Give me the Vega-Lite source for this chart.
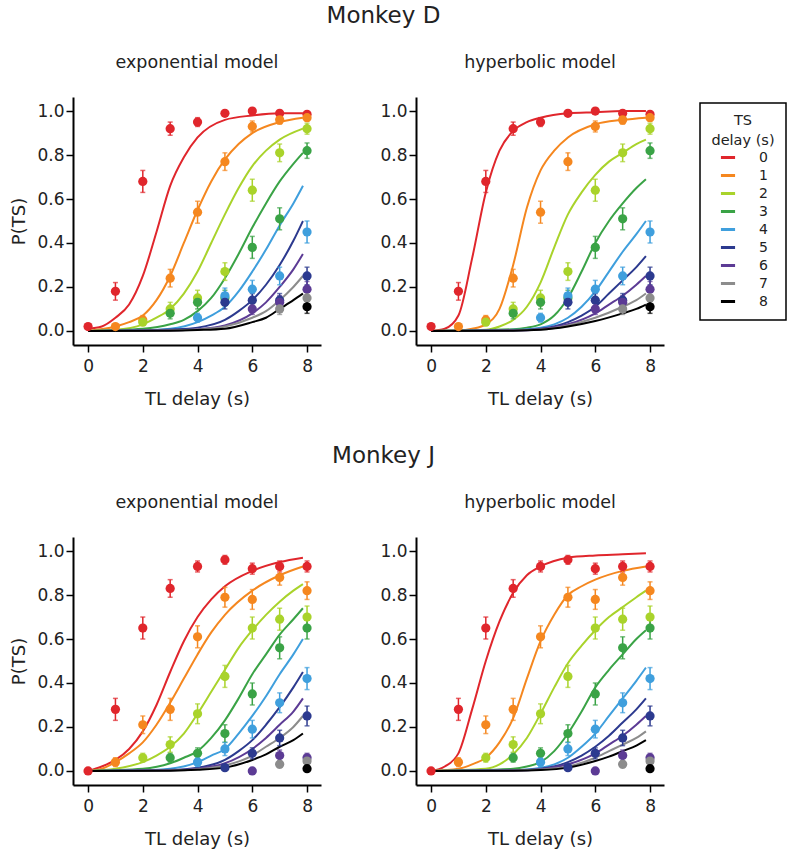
{
  "$schema": "https://vega.github.io/schema/vega-lite/v6.json",
  "background": "white",
  "padding": {"left": 10, "top": 4, "right": 4, "bottom": 4},
  "datasets": {
    "pts": [
      {"monkey": "D", "ts": 0, "tl": 0, "p": 0.02, "lo": 0.01, "hi": 0.03},
      {"monkey": "D", "ts": 0, "tl": 1, "p": 0.18, "lo": 0.14, "hi": 0.22},
      {"monkey": "D", "ts": 0, "tl": 2, "p": 0.68, "lo": 0.63, "hi": 0.73},
      {"monkey": "D", "ts": 0, "tl": 3, "p": 0.92, "lo": 0.89, "hi": 0.95},
      {"monkey": "D", "ts": 0, "tl": 4, "p": 0.95, "lo": 0.93, "hi": 0.97},
      {"monkey": "D", "ts": 0, "tl": 5, "p": 0.99, "lo": 0.98, "hi": 1.0},
      {"monkey": "D", "ts": 0, "tl": 6, "p": 1.0, "lo": 0.995, "hi": 1.0},
      {"monkey": "D", "ts": 0, "tl": 7, "p": 0.99, "lo": 0.98, "hi": 1.0},
      {"monkey": "D", "ts": 0, "tl": 8, "p": 0.985, "lo": 0.975, "hi": 0.995},
      {"monkey": "D", "ts": 1, "tl": 1, "p": 0.02, "lo": 0.01, "hi": 0.03},
      {"monkey": "D", "ts": 1, "tl": 2, "p": 0.05, "lo": 0.03, "hi": 0.07},
      {"monkey": "D", "ts": 1, "tl": 3, "p": 0.24, "lo": 0.2, "hi": 0.28},
      {"monkey": "D", "ts": 1, "tl": 4, "p": 0.54, "lo": 0.49, "hi": 0.59},
      {"monkey": "D", "ts": 1, "tl": 5, "p": 0.77, "lo": 0.73, "hi": 0.81},
      {"monkey": "D", "ts": 1, "tl": 6, "p": 0.93, "lo": 0.905, "hi": 0.955},
      {"monkey": "D", "ts": 1, "tl": 7, "p": 0.96, "lo": 0.94, "hi": 0.98},
      {"monkey": "D", "ts": 1, "tl": 8, "p": 0.97, "lo": 0.955, "hi": 0.985},
      {"monkey": "D", "ts": 2, "tl": 2, "p": 0.04, "lo": 0.025, "hi": 0.055},
      {"monkey": "D", "ts": 2, "tl": 3, "p": 0.1, "lo": 0.07, "hi": 0.13},
      {"monkey": "D", "ts": 2, "tl": 4, "p": 0.15, "lo": 0.115, "hi": 0.185},
      {"monkey": "D", "ts": 2, "tl": 5, "p": 0.27, "lo": 0.23, "hi": 0.31},
      {"monkey": "D", "ts": 2, "tl": 6, "p": 0.64, "lo": 0.59, "hi": 0.69},
      {"monkey": "D", "ts": 2, "tl": 7, "p": 0.81, "lo": 0.77, "hi": 0.85},
      {"monkey": "D", "ts": 2, "tl": 8, "p": 0.92, "lo": 0.895, "hi": 0.945},
      {"monkey": "D", "ts": 3, "tl": 3, "p": 0.08, "lo": 0.055, "hi": 0.105},
      {"monkey": "D", "ts": 3, "tl": 4, "p": 0.13, "lo": 0.1, "hi": 0.16},
      {"monkey": "D", "ts": 3, "tl": 5, "p": 0.15, "lo": 0.115, "hi": 0.185},
      {"monkey": "D", "ts": 3, "tl": 6, "p": 0.38, "lo": 0.33, "hi": 0.43},
      {"monkey": "D", "ts": 3, "tl": 7, "p": 0.51, "lo": 0.46, "hi": 0.56},
      {"monkey": "D", "ts": 3, "tl": 8, "p": 0.82, "lo": 0.785, "hi": 0.855},
      {"monkey": "D", "ts": 4, "tl": 4, "p": 0.06, "lo": 0.04, "hi": 0.08},
      {"monkey": "D", "ts": 4, "tl": 5, "p": 0.16, "lo": 0.125, "hi": 0.195},
      {"monkey": "D", "ts": 4, "tl": 6, "p": 0.19, "lo": 0.15, "hi": 0.23},
      {"monkey": "D", "ts": 4, "tl": 7, "p": 0.25, "lo": 0.21, "hi": 0.29},
      {"monkey": "D", "ts": 4, "tl": 8, "p": 0.45, "lo": 0.4, "hi": 0.5},
      {"monkey": "D", "ts": 5, "tl": 5, "p": 0.13, "lo": 0.1, "hi": 0.16},
      {"monkey": "D", "ts": 5, "tl": 6, "p": 0.14, "lo": 0.11, "hi": 0.17},
      {"monkey": "D", "ts": 5, "tl": 7, "p": 0.14, "lo": 0.11, "hi": 0.17},
      {"monkey": "D", "ts": 5, "tl": 8, "p": 0.25, "lo": 0.21, "hi": 0.29},
      {"monkey": "D", "ts": 6, "tl": 6, "p": 0.1, "lo": 0.075, "hi": 0.125},
      {"monkey": "D", "ts": 6, "tl": 7, "p": 0.13, "lo": 0.1, "hi": 0.16},
      {"monkey": "D", "ts": 6, "tl": 8, "p": 0.19, "lo": 0.155, "hi": 0.225},
      {"monkey": "D", "ts": 7, "tl": 7, "p": 0.1, "lo": 0.075, "hi": 0.125},
      {"monkey": "D", "ts": 7, "tl": 8, "p": 0.15, "lo": 0.12, "hi": 0.18},
      {"monkey": "D", "ts": 8, "tl": 8, "p": 0.11, "lo": 0.08, "hi": 0.14},
      {"monkey": "J", "ts": 0, "tl": 0, "p": 0.0, "lo": 0.0, "hi": 0.01},
      {"monkey": "J", "ts": 0, "tl": 1, "p": 0.28, "lo": 0.23, "hi": 0.33},
      {"monkey": "J", "ts": 0, "tl": 2, "p": 0.65, "lo": 0.6, "hi": 0.7},
      {"monkey": "J", "ts": 0, "tl": 3, "p": 0.83, "lo": 0.79, "hi": 0.87},
      {"monkey": "J", "ts": 0, "tl": 4, "p": 0.93, "lo": 0.905, "hi": 0.955},
      {"monkey": "J", "ts": 0, "tl": 5, "p": 0.96, "lo": 0.94, "hi": 0.98},
      {"monkey": "J", "ts": 0, "tl": 6, "p": 0.92, "lo": 0.895, "hi": 0.945},
      {"monkey": "J", "ts": 0, "tl": 7, "p": 0.93, "lo": 0.905, "hi": 0.955},
      {"monkey": "J", "ts": 0, "tl": 8, "p": 0.93, "lo": 0.905, "hi": 0.955},
      {"monkey": "J", "ts": 1, "tl": 1, "p": 0.04, "lo": 0.02, "hi": 0.06},
      {"monkey": "J", "ts": 1, "tl": 2, "p": 0.21, "lo": 0.17, "hi": 0.25},
      {"monkey": "J", "ts": 1, "tl": 3, "p": 0.28, "lo": 0.23, "hi": 0.33},
      {"monkey": "J", "ts": 1, "tl": 4, "p": 0.61, "lo": 0.56, "hi": 0.66},
      {"monkey": "J", "ts": 1, "tl": 5, "p": 0.79, "lo": 0.745, "hi": 0.835},
      {"monkey": "J", "ts": 1, "tl": 6, "p": 0.78, "lo": 0.735, "hi": 0.825},
      {"monkey": "J", "ts": 1, "tl": 7, "p": 0.88, "lo": 0.845, "hi": 0.915},
      {"monkey": "J", "ts": 1, "tl": 8, "p": 0.82, "lo": 0.78, "hi": 0.86},
      {"monkey": "J", "ts": 2, "tl": 2, "p": 0.06, "lo": 0.04, "hi": 0.08},
      {"monkey": "J", "ts": 2, "tl": 3, "p": 0.12, "lo": 0.085, "hi": 0.155},
      {"monkey": "J", "ts": 2, "tl": 4, "p": 0.26, "lo": 0.215, "hi": 0.305},
      {"monkey": "J", "ts": 2, "tl": 5, "p": 0.43, "lo": 0.38, "hi": 0.48},
      {"monkey": "J", "ts": 2, "tl": 6, "p": 0.65, "lo": 0.6, "hi": 0.7},
      {"monkey": "J", "ts": 2, "tl": 7, "p": 0.69, "lo": 0.64, "hi": 0.74},
      {"monkey": "J", "ts": 2, "tl": 8, "p": 0.7, "lo": 0.65, "hi": 0.75},
      {"monkey": "J", "ts": 3, "tl": 3, "p": 0.06, "lo": 0.04, "hi": 0.08},
      {"monkey": "J", "ts": 3, "tl": 4, "p": 0.08, "lo": 0.055, "hi": 0.105},
      {"monkey": "J", "ts": 3, "tl": 5, "p": 0.17, "lo": 0.13, "hi": 0.21},
      {"monkey": "J", "ts": 3, "tl": 6, "p": 0.35, "lo": 0.3, "hi": 0.4},
      {"monkey": "J", "ts": 3, "tl": 7, "p": 0.56, "lo": 0.51, "hi": 0.61},
      {"monkey": "J", "ts": 3, "tl": 8, "p": 0.65, "lo": 0.6, "hi": 0.7},
      {"monkey": "J", "ts": 4, "tl": 4, "p": 0.04, "lo": 0.02, "hi": 0.06},
      {"monkey": "J", "ts": 4, "tl": 5, "p": 0.1, "lo": 0.07, "hi": 0.13},
      {"monkey": "J", "ts": 4, "tl": 6, "p": 0.19, "lo": 0.15, "hi": 0.23},
      {"monkey": "J", "ts": 4, "tl": 7, "p": 0.31, "lo": 0.265, "hi": 0.355},
      {"monkey": "J", "ts": 4, "tl": 8, "p": 0.42, "lo": 0.37, "hi": 0.47},
      {"monkey": "J", "ts": 5, "tl": 5, "p": 0.015, "lo": 0.005, "hi": 0.025},
      {"monkey": "J", "ts": 5, "tl": 6, "p": 0.08, "lo": 0.055, "hi": 0.105},
      {"monkey": "J", "ts": 5, "tl": 7, "p": 0.15, "lo": 0.115, "hi": 0.185},
      {"monkey": "J", "ts": 5, "tl": 8, "p": 0.25, "lo": 0.205, "hi": 0.295},
      {"monkey": "J", "ts": 6, "tl": 6, "p": 0.0, "lo": 0.0, "hi": 0.005},
      {"monkey": "J", "ts": 6, "tl": 7, "p": 0.07, "lo": 0.045, "hi": 0.095},
      {"monkey": "J", "ts": 6, "tl": 8, "p": 0.06, "lo": 0.04, "hi": 0.08},
      {"monkey": "J", "ts": 7, "tl": 7, "p": 0.03, "lo": 0.015, "hi": 0.045},
      {"monkey": "J", "ts": 7, "tl": 8, "p": 0.045, "lo": 0.025, "hi": 0.065},
      {"monkey": "J", "ts": 8, "tl": 8, "p": 0.01, "lo": 0.0, "hi": 0.02}
    ],
    "fit": [
      {"monkey": "D", "model": "exp", "ts": 0, "tl": 0, "p": 0.01},
      {"monkey": "D", "model": "exp", "ts": 0, "tl": 0.5, "p": 0.02},
      {"monkey": "D", "model": "exp", "ts": 0, "tl": 1, "p": 0.06},
      {"monkey": "D", "model": "exp", "ts": 0, "tl": 1.5, "p": 0.12},
      {"monkey": "D", "model": "exp", "ts": 0, "tl": 2, "p": 0.25},
      {"monkey": "D", "model": "exp", "ts": 0, "tl": 2.5, "p": 0.45},
      {"monkey": "D", "model": "exp", "ts": 0, "tl": 3, "p": 0.66},
      {"monkey": "D", "model": "exp", "ts": 0, "tl": 3.5, "p": 0.79},
      {"monkey": "D", "model": "exp", "ts": 0, "tl": 4, "p": 0.88},
      {"monkey": "D", "model": "exp", "ts": 0, "tl": 5, "p": 0.96},
      {"monkey": "D", "model": "exp", "ts": 0, "tl": 6, "p": 0.98},
      {"monkey": "D", "model": "exp", "ts": 0, "tl": 7, "p": 0.99},
      {"monkey": "D", "model": "exp", "ts": 0, "tl": 7.85, "p": 0.99},
      {"monkey": "D", "model": "exp", "ts": 1, "tl": 0, "p": 0.0},
      {"monkey": "D", "model": "exp", "ts": 1, "tl": 1, "p": 0.02},
      {"monkey": "D", "model": "exp", "ts": 1, "tl": 1.5, "p": 0.04},
      {"monkey": "D", "model": "exp", "ts": 1, "tl": 2, "p": 0.07},
      {"monkey": "D", "model": "exp", "ts": 1, "tl": 2.5, "p": 0.14},
      {"monkey": "D", "model": "exp", "ts": 1, "tl": 3, "p": 0.25},
      {"monkey": "D", "model": "exp", "ts": 1, "tl": 3.5, "p": 0.4},
      {"monkey": "D", "model": "exp", "ts": 1, "tl": 4, "p": 0.55},
      {"monkey": "D", "model": "exp", "ts": 1, "tl": 4.5, "p": 0.68},
      {"monkey": "D", "model": "exp", "ts": 1, "tl": 5, "p": 0.78},
      {"monkey": "D", "model": "exp", "ts": 1, "tl": 5.5, "p": 0.85},
      {"monkey": "D", "model": "exp", "ts": 1, "tl": 6, "p": 0.9},
      {"monkey": "D", "model": "exp", "ts": 1, "tl": 7, "p": 0.95},
      {"monkey": "D", "model": "exp", "ts": 1, "tl": 7.85, "p": 0.97},
      {"monkey": "D", "model": "exp", "ts": 2, "tl": 0, "p": 0.0},
      {"monkey": "D", "model": "exp", "ts": 2, "tl": 1, "p": 0.005},
      {"monkey": "D", "model": "exp", "ts": 2, "tl": 2, "p": 0.03},
      {"monkey": "D", "model": "exp", "ts": 2, "tl": 2.5, "p": 0.06},
      {"monkey": "D", "model": "exp", "ts": 2, "tl": 3, "p": 0.1},
      {"monkey": "D", "model": "exp", "ts": 2, "tl": 3.5, "p": 0.17},
      {"monkey": "D", "model": "exp", "ts": 2, "tl": 4, "p": 0.27},
      {"monkey": "D", "model": "exp", "ts": 2, "tl": 4.5, "p": 0.4},
      {"monkey": "D", "model": "exp", "ts": 2, "tl": 5, "p": 0.53},
      {"monkey": "D", "model": "exp", "ts": 2, "tl": 5.5, "p": 0.65},
      {"monkey": "D", "model": "exp", "ts": 2, "tl": 6, "p": 0.75},
      {"monkey": "D", "model": "exp", "ts": 2, "tl": 6.5, "p": 0.82},
      {"monkey": "D", "model": "exp", "ts": 2, "tl": 7, "p": 0.87},
      {"monkey": "D", "model": "exp", "ts": 2, "tl": 7.85, "p": 0.92},
      {"monkey": "D", "model": "exp", "ts": 3, "tl": 0, "p": 0.0},
      {"monkey": "D", "model": "exp", "ts": 3, "tl": 2, "p": 0.01},
      {"monkey": "D", "model": "exp", "ts": 3, "tl": 3, "p": 0.03},
      {"monkey": "D", "model": "exp", "ts": 3, "tl": 3.5, "p": 0.05},
      {"monkey": "D", "model": "exp", "ts": 3, "tl": 4, "p": 0.09},
      {"monkey": "D", "model": "exp", "ts": 3, "tl": 4.5, "p": 0.15},
      {"monkey": "D", "model": "exp", "ts": 3, "tl": 5, "p": 0.24},
      {"monkey": "D", "model": "exp", "ts": 3, "tl": 5.5, "p": 0.35},
      {"monkey": "D", "model": "exp", "ts": 3, "tl": 6, "p": 0.47},
      {"monkey": "D", "model": "exp", "ts": 3, "tl": 6.5, "p": 0.58},
      {"monkey": "D", "model": "exp", "ts": 3, "tl": 7, "p": 0.68},
      {"monkey": "D", "model": "exp", "ts": 3, "tl": 7.5, "p": 0.76},
      {"monkey": "D", "model": "exp", "ts": 3, "tl": 7.85, "p": 0.81},
      {"monkey": "D", "model": "exp", "ts": 4, "tl": 0, "p": 0.0},
      {"monkey": "D", "model": "exp", "ts": 4, "tl": 2, "p": 0.003},
      {"monkey": "D", "model": "exp", "ts": 4, "tl": 3, "p": 0.01},
      {"monkey": "D", "model": "exp", "ts": 4, "tl": 4, "p": 0.04},
      {"monkey": "D", "model": "exp", "ts": 4, "tl": 4.5, "p": 0.07},
      {"monkey": "D", "model": "exp", "ts": 4, "tl": 5, "p": 0.11},
      {"monkey": "D", "model": "exp", "ts": 4, "tl": 5.5, "p": 0.18},
      {"monkey": "D", "model": "exp", "ts": 4, "tl": 6, "p": 0.27},
      {"monkey": "D", "model": "exp", "ts": 4, "tl": 6.5, "p": 0.37},
      {"monkey": "D", "model": "exp", "ts": 4, "tl": 7, "p": 0.48},
      {"monkey": "D", "model": "exp", "ts": 4, "tl": 7.5, "p": 0.58},
      {"monkey": "D", "model": "exp", "ts": 4, "tl": 7.85, "p": 0.66},
      {"monkey": "D", "model": "exp", "ts": 5, "tl": 0, "p": 0.0},
      {"monkey": "D", "model": "exp", "ts": 5, "tl": 2, "p": 0.002},
      {"monkey": "D", "model": "exp", "ts": 5, "tl": 3, "p": 0.006},
      {"monkey": "D", "model": "exp", "ts": 5, "tl": 4, "p": 0.015},
      {"monkey": "D", "model": "exp", "ts": 5, "tl": 5, "p": 0.05},
      {"monkey": "D", "model": "exp", "ts": 5, "tl": 5.5, "p": 0.09},
      {"monkey": "D", "model": "exp", "ts": 5, "tl": 6, "p": 0.14},
      {"monkey": "D", "model": "exp", "ts": 5, "tl": 6.5, "p": 0.21},
      {"monkey": "D", "model": "exp", "ts": 5, "tl": 7, "p": 0.3},
      {"monkey": "D", "model": "exp", "ts": 5, "tl": 7.5, "p": 0.41},
      {"monkey": "D", "model": "exp", "ts": 5, "tl": 7.85, "p": 0.5},
      {"monkey": "D", "model": "exp", "ts": 6, "tl": 0, "p": 0.0},
      {"monkey": "D", "model": "exp", "ts": 6, "tl": 3, "p": 0.003},
      {"monkey": "D", "model": "exp", "ts": 6, "tl": 4, "p": 0.008},
      {"monkey": "D", "model": "exp", "ts": 6, "tl": 5, "p": 0.025},
      {"monkey": "D", "model": "exp", "ts": 6, "tl": 6, "p": 0.08},
      {"monkey": "D", "model": "exp", "ts": 6, "tl": 6.5, "p": 0.13},
      {"monkey": "D", "model": "exp", "ts": 6, "tl": 7, "p": 0.2},
      {"monkey": "D", "model": "exp", "ts": 6, "tl": 7.5, "p": 0.28},
      {"monkey": "D", "model": "exp", "ts": 6, "tl": 7.85, "p": 0.35},
      {"monkey": "D", "model": "exp", "ts": 7, "tl": 0, "p": 0.0},
      {"monkey": "D", "model": "exp", "ts": 7, "tl": 3, "p": 0.002},
      {"monkey": "D", "model": "exp", "ts": 7, "tl": 4, "p": 0.006},
      {"monkey": "D", "model": "exp", "ts": 7, "tl": 5, "p": 0.02},
      {"monkey": "D", "model": "exp", "ts": 7, "tl": 6, "p": 0.06},
      {"monkey": "D", "model": "exp", "ts": 7, "tl": 6.5, "p": 0.09},
      {"monkey": "D", "model": "exp", "ts": 7, "tl": 7, "p": 0.14},
      {"monkey": "D", "model": "exp", "ts": 7, "tl": 7.5, "p": 0.2},
      {"monkey": "D", "model": "exp", "ts": 7, "tl": 7.85, "p": 0.25},
      {"monkey": "D", "model": "exp", "ts": 8, "tl": 0, "p": 0.0},
      {"monkey": "D", "model": "exp", "ts": 8, "tl": 3, "p": 0.001},
      {"monkey": "D", "model": "exp", "ts": 8, "tl": 4, "p": 0.004},
      {"monkey": "D", "model": "exp", "ts": 8, "tl": 5, "p": 0.01},
      {"monkey": "D", "model": "exp", "ts": 8, "tl": 6, "p": 0.04},
      {"monkey": "D", "model": "exp", "ts": 8, "tl": 6.5, "p": 0.06},
      {"monkey": "D", "model": "exp", "ts": 8, "tl": 7, "p": 0.1},
      {"monkey": "D", "model": "exp", "ts": 8, "tl": 7.5, "p": 0.14},
      {"monkey": "D", "model": "exp", "ts": 8, "tl": 7.85, "p": 0.17},
      {"monkey": "D", "model": "hyp", "ts": 0, "tl": 0, "p": 0.0},
      {"monkey": "D", "model": "hyp", "ts": 0, "tl": 0.5, "p": 0.01},
      {"monkey": "D", "model": "hyp", "ts": 0, "tl": 1, "p": 0.07},
      {"monkey": "D", "model": "hyp", "ts": 0, "tl": 1.5, "p": 0.33},
      {"monkey": "D", "model": "hyp", "ts": 0, "tl": 2, "p": 0.63},
      {"monkey": "D", "model": "hyp", "ts": 0, "tl": 2.5, "p": 0.82},
      {"monkey": "D", "model": "hyp", "ts": 0, "tl": 3, "p": 0.91},
      {"monkey": "D", "model": "hyp", "ts": 0, "tl": 3.5, "p": 0.95},
      {"monkey": "D", "model": "hyp", "ts": 0, "tl": 4, "p": 0.97},
      {"monkey": "D", "model": "hyp", "ts": 0, "tl": 5, "p": 0.99},
      {"monkey": "D", "model": "hyp", "ts": 0, "tl": 6, "p": 0.995},
      {"monkey": "D", "model": "hyp", "ts": 0, "tl": 7, "p": 1.0},
      {"monkey": "D", "model": "hyp", "ts": 0, "tl": 7.85, "p": 1.0},
      {"monkey": "D", "model": "hyp", "ts": 1, "tl": 0, "p": 0.0},
      {"monkey": "D", "model": "hyp", "ts": 1, "tl": 1, "p": 0.002},
      {"monkey": "D", "model": "hyp", "ts": 1, "tl": 1.5, "p": 0.01},
      {"monkey": "D", "model": "hyp", "ts": 1, "tl": 2, "p": 0.03},
      {"monkey": "D", "model": "hyp", "ts": 1, "tl": 2.5, "p": 0.1},
      {"monkey": "D", "model": "hyp", "ts": 1, "tl": 3, "p": 0.3},
      {"monkey": "D", "model": "hyp", "ts": 1, "tl": 3.5, "p": 0.56},
      {"monkey": "D", "model": "hyp", "ts": 1, "tl": 4, "p": 0.73},
      {"monkey": "D", "model": "hyp", "ts": 1, "tl": 4.5, "p": 0.82},
      {"monkey": "D", "model": "hyp", "ts": 1, "tl": 5, "p": 0.88},
      {"monkey": "D", "model": "hyp", "ts": 1, "tl": 6, "p": 0.94},
      {"monkey": "D", "model": "hyp", "ts": 1, "tl": 7, "p": 0.96},
      {"monkey": "D", "model": "hyp", "ts": 1, "tl": 7.85, "p": 0.97},
      {"monkey": "D", "model": "hyp", "ts": 2, "tl": 0, "p": 0.0},
      {"monkey": "D", "model": "hyp", "ts": 2, "tl": 2, "p": 0.005},
      {"monkey": "D", "model": "hyp", "ts": 2, "tl": 2.5, "p": 0.02},
      {"monkey": "D", "model": "hyp", "ts": 2, "tl": 3, "p": 0.05},
      {"monkey": "D", "model": "hyp", "ts": 2, "tl": 3.5, "p": 0.11},
      {"monkey": "D", "model": "hyp", "ts": 2, "tl": 4, "p": 0.22},
      {"monkey": "D", "model": "hyp", "ts": 2, "tl": 4.5, "p": 0.38},
      {"monkey": "D", "model": "hyp", "ts": 2, "tl": 5, "p": 0.53},
      {"monkey": "D", "model": "hyp", "ts": 2, "tl": 5.5, "p": 0.63},
      {"monkey": "D", "model": "hyp", "ts": 2, "tl": 6, "p": 0.71},
      {"monkey": "D", "model": "hyp", "ts": 2, "tl": 6.5, "p": 0.77},
      {"monkey": "D", "model": "hyp", "ts": 2, "tl": 7, "p": 0.81},
      {"monkey": "D", "model": "hyp", "ts": 2, "tl": 7.5, "p": 0.85},
      {"monkey": "D", "model": "hyp", "ts": 2, "tl": 7.85, "p": 0.87},
      {"monkey": "D", "model": "hyp", "ts": 3, "tl": 0, "p": 0.0},
      {"monkey": "D", "model": "hyp", "ts": 3, "tl": 3, "p": 0.008},
      {"monkey": "D", "model": "hyp", "ts": 3, "tl": 3.5, "p": 0.015},
      {"monkey": "D", "model": "hyp", "ts": 3, "tl": 4, "p": 0.03},
      {"monkey": "D", "model": "hyp", "ts": 3, "tl": 4.5, "p": 0.07},
      {"monkey": "D", "model": "hyp", "ts": 3, "tl": 5, "p": 0.15},
      {"monkey": "D", "model": "hyp", "ts": 3, "tl": 5.5, "p": 0.27},
      {"monkey": "D", "model": "hyp", "ts": 3, "tl": 6, "p": 0.4},
      {"monkey": "D", "model": "hyp", "ts": 3, "tl": 6.5, "p": 0.5},
      {"monkey": "D", "model": "hyp", "ts": 3, "tl": 7, "p": 0.58},
      {"monkey": "D", "model": "hyp", "ts": 3, "tl": 7.5, "p": 0.65},
      {"monkey": "D", "model": "hyp", "ts": 3, "tl": 7.85, "p": 0.69},
      {"monkey": "D", "model": "hyp", "ts": 4, "tl": 0, "p": 0.0},
      {"monkey": "D", "model": "hyp", "ts": 4, "tl": 3, "p": 0.005},
      {"monkey": "D", "model": "hyp", "ts": 4, "tl": 4, "p": 0.015},
      {"monkey": "D", "model": "hyp", "ts": 4, "tl": 4.5, "p": 0.03},
      {"monkey": "D", "model": "hyp", "ts": 4, "tl": 5, "p": 0.06},
      {"monkey": "D", "model": "hyp", "ts": 4, "tl": 5.5, "p": 0.11},
      {"monkey": "D", "model": "hyp", "ts": 4, "tl": 6, "p": 0.18},
      {"monkey": "D", "model": "hyp", "ts": 4, "tl": 6.5, "p": 0.27},
      {"monkey": "D", "model": "hyp", "ts": 4, "tl": 7, "p": 0.36},
      {"monkey": "D", "model": "hyp", "ts": 4, "tl": 7.5, "p": 0.44},
      {"monkey": "D", "model": "hyp", "ts": 4, "tl": 7.85, "p": 0.5},
      {"monkey": "D", "model": "hyp", "ts": 5, "tl": 0, "p": 0.0},
      {"monkey": "D", "model": "hyp", "ts": 5, "tl": 3, "p": 0.003},
      {"monkey": "D", "model": "hyp", "ts": 5, "tl": 4, "p": 0.01},
      {"monkey": "D", "model": "hyp", "ts": 5, "tl": 5, "p": 0.04},
      {"monkey": "D", "model": "hyp", "ts": 5, "tl": 5.5, "p": 0.07},
      {"monkey": "D", "model": "hyp", "ts": 5, "tl": 6, "p": 0.11},
      {"monkey": "D", "model": "hyp", "ts": 5, "tl": 6.5, "p": 0.17},
      {"monkey": "D", "model": "hyp", "ts": 5, "tl": 7, "p": 0.23},
      {"monkey": "D", "model": "hyp", "ts": 5, "tl": 7.5, "p": 0.29},
      {"monkey": "D", "model": "hyp", "ts": 5, "tl": 7.85, "p": 0.34},
      {"monkey": "D", "model": "hyp", "ts": 6, "tl": 0, "p": 0.0},
      {"monkey": "D", "model": "hyp", "ts": 6, "tl": 3, "p": 0.002},
      {"monkey": "D", "model": "hyp", "ts": 6, "tl": 4, "p": 0.008},
      {"monkey": "D", "model": "hyp", "ts": 6, "tl": 5, "p": 0.03},
      {"monkey": "D", "model": "hyp", "ts": 6, "tl": 6, "p": 0.08},
      {"monkey": "D", "model": "hyp", "ts": 6, "tl": 6.5, "p": 0.12},
      {"monkey": "D", "model": "hyp", "ts": 6, "tl": 7, "p": 0.16},
      {"monkey": "D", "model": "hyp", "ts": 6, "tl": 7.5, "p": 0.21},
      {"monkey": "D", "model": "hyp", "ts": 6, "tl": 7.85, "p": 0.25},
      {"monkey": "D", "model": "hyp", "ts": 7, "tl": 0, "p": 0.0},
      {"monkey": "D", "model": "hyp", "ts": 7, "tl": 3, "p": 0.002},
      {"monkey": "D", "model": "hyp", "ts": 7, "tl": 4, "p": 0.006},
      {"monkey": "D", "model": "hyp", "ts": 7, "tl": 5, "p": 0.025},
      {"monkey": "D", "model": "hyp", "ts": 7, "tl": 6, "p": 0.06},
      {"monkey": "D", "model": "hyp", "ts": 7, "tl": 7, "p": 0.11},
      {"monkey": "D", "model": "hyp", "ts": 7, "tl": 7.5, "p": 0.14},
      {"monkey": "D", "model": "hyp", "ts": 7, "tl": 7.85, "p": 0.17},
      {"monkey": "D", "model": "hyp", "ts": 8, "tl": 0, "p": 0.0},
      {"monkey": "D", "model": "hyp", "ts": 8, "tl": 3, "p": 0.001},
      {"monkey": "D", "model": "hyp", "ts": 8, "tl": 4, "p": 0.005},
      {"monkey": "D", "model": "hyp", "ts": 8, "tl": 5, "p": 0.02},
      {"monkey": "D", "model": "hyp", "ts": 8, "tl": 6, "p": 0.045},
      {"monkey": "D", "model": "hyp", "ts": 8, "tl": 7, "p": 0.08},
      {"monkey": "D", "model": "hyp", "ts": 8, "tl": 7.5, "p": 0.1},
      {"monkey": "D", "model": "hyp", "ts": 8, "tl": 7.85, "p": 0.12},
      {"monkey": "J", "model": "exp", "ts": 0, "tl": 0, "p": 0.0},
      {"monkey": "J", "model": "exp", "ts": 0, "tl": 0.5, "p": 0.02},
      {"monkey": "J", "model": "exp", "ts": 0, "tl": 1, "p": 0.05},
      {"monkey": "J", "model": "exp", "ts": 0, "tl": 1.5, "p": 0.1},
      {"monkey": "J", "model": "exp", "ts": 0, "tl": 2, "p": 0.18},
      {"monkey": "J", "model": "exp", "ts": 0, "tl": 2.5, "p": 0.3},
      {"monkey": "J", "model": "exp", "ts": 0, "tl": 3, "p": 0.45},
      {"monkey": "J", "model": "exp", "ts": 0, "tl": 3.5, "p": 0.59},
      {"monkey": "J", "model": "exp", "ts": 0, "tl": 4, "p": 0.7},
      {"monkey": "J", "model": "exp", "ts": 0, "tl": 4.5, "p": 0.78},
      {"monkey": "J", "model": "exp", "ts": 0, "tl": 5, "p": 0.84},
      {"monkey": "J", "model": "exp", "ts": 0, "tl": 6, "p": 0.91},
      {"monkey": "J", "model": "exp", "ts": 0, "tl": 7, "p": 0.95},
      {"monkey": "J", "model": "exp", "ts": 0, "tl": 7.85, "p": 0.97},
      {"monkey": "J", "model": "exp", "ts": 1, "tl": 0, "p": 0.0},
      {"monkey": "J", "model": "exp", "ts": 1, "tl": 0.5, "p": 0.01},
      {"monkey": "J", "model": "exp", "ts": 1, "tl": 1, "p": 0.04},
      {"monkey": "J", "model": "exp", "ts": 1, "tl": 1.5, "p": 0.08},
      {"monkey": "J", "model": "exp", "ts": 1, "tl": 2, "p": 0.13},
      {"monkey": "J", "model": "exp", "ts": 1, "tl": 2.5, "p": 0.21},
      {"monkey": "J", "model": "exp", "ts": 1, "tl": 3, "p": 0.31},
      {"monkey": "J", "model": "exp", "ts": 1, "tl": 3.5, "p": 0.42},
      {"monkey": "J", "model": "exp", "ts": 1, "tl": 4, "p": 0.53},
      {"monkey": "J", "model": "exp", "ts": 1, "tl": 4.5, "p": 0.63},
      {"monkey": "J", "model": "exp", "ts": 1, "tl": 5, "p": 0.71},
      {"monkey": "J", "model": "exp", "ts": 1, "tl": 6, "p": 0.82},
      {"monkey": "J", "model": "exp", "ts": 1, "tl": 7, "p": 0.89},
      {"monkey": "J", "model": "exp", "ts": 1, "tl": 7.85, "p": 0.93},
      {"monkey": "J", "model": "exp", "ts": 2, "tl": 0, "p": 0.0},
      {"monkey": "J", "model": "exp", "ts": 2, "tl": 1, "p": 0.01},
      {"monkey": "J", "model": "exp", "ts": 2, "tl": 2, "p": 0.04},
      {"monkey": "J", "model": "exp", "ts": 2, "tl": 2.5, "p": 0.07},
      {"monkey": "J", "model": "exp", "ts": 2, "tl": 3, "p": 0.11},
      {"monkey": "J", "model": "exp", "ts": 2, "tl": 3.5, "p": 0.17},
      {"monkey": "J", "model": "exp", "ts": 2, "tl": 4, "p": 0.26},
      {"monkey": "J", "model": "exp", "ts": 2, "tl": 4.5, "p": 0.36},
      {"monkey": "J", "model": "exp", "ts": 2, "tl": 5, "p": 0.46},
      {"monkey": "J", "model": "exp", "ts": 2, "tl": 5.5, "p": 0.56},
      {"monkey": "J", "model": "exp", "ts": 2, "tl": 6, "p": 0.64},
      {"monkey": "J", "model": "exp", "ts": 2, "tl": 6.5, "p": 0.71},
      {"monkey": "J", "model": "exp", "ts": 2, "tl": 7, "p": 0.77},
      {"monkey": "J", "model": "exp", "ts": 2, "tl": 7.5, "p": 0.82},
      {"monkey": "J", "model": "exp", "ts": 2, "tl": 7.85, "p": 0.85},
      {"monkey": "J", "model": "exp", "ts": 3, "tl": 0, "p": 0.0},
      {"monkey": "J", "model": "exp", "ts": 3, "tl": 2, "p": 0.01},
      {"monkey": "J", "model": "exp", "ts": 3, "tl": 3, "p": 0.035},
      {"monkey": "J", "model": "exp", "ts": 3, "tl": 3.5, "p": 0.06},
      {"monkey": "J", "model": "exp", "ts": 3, "tl": 4, "p": 0.09},
      {"monkey": "J", "model": "exp", "ts": 3, "tl": 4.5, "p": 0.15},
      {"monkey": "J", "model": "exp", "ts": 3, "tl": 5, "p": 0.23},
      {"monkey": "J", "model": "exp", "ts": 3, "tl": 5.5, "p": 0.33},
      {"monkey": "J", "model": "exp", "ts": 3, "tl": 6, "p": 0.44},
      {"monkey": "J", "model": "exp", "ts": 3, "tl": 6.5, "p": 0.53},
      {"monkey": "J", "model": "exp", "ts": 3, "tl": 7, "p": 0.62},
      {"monkey": "J", "model": "exp", "ts": 3, "tl": 7.5, "p": 0.69},
      {"monkey": "J", "model": "exp", "ts": 3, "tl": 7.85, "p": 0.74},
      {"monkey": "J", "model": "exp", "ts": 4, "tl": 0, "p": 0.0},
      {"monkey": "J", "model": "exp", "ts": 4, "tl": 2, "p": 0.003},
      {"monkey": "J", "model": "exp", "ts": 4, "tl": 3, "p": 0.01},
      {"monkey": "J", "model": "exp", "ts": 4, "tl": 4, "p": 0.04},
      {"monkey": "J", "model": "exp", "ts": 4, "tl": 4.5, "p": 0.07},
      {"monkey": "J", "model": "exp", "ts": 4, "tl": 5, "p": 0.1},
      {"monkey": "J", "model": "exp", "ts": 4, "tl": 5.5, "p": 0.17},
      {"monkey": "J", "model": "exp", "ts": 4, "tl": 6, "p": 0.25},
      {"monkey": "J", "model": "exp", "ts": 4, "tl": 6.5, "p": 0.34},
      {"monkey": "J", "model": "exp", "ts": 4, "tl": 7, "p": 0.44},
      {"monkey": "J", "model": "exp", "ts": 4, "tl": 7.5, "p": 0.53},
      {"monkey": "J", "model": "exp", "ts": 4, "tl": 7.85, "p": 0.6},
      {"monkey": "J", "model": "exp", "ts": 5, "tl": 0, "p": 0.0},
      {"monkey": "J", "model": "exp", "ts": 5, "tl": 3, "p": 0.005},
      {"monkey": "J", "model": "exp", "ts": 5, "tl": 4, "p": 0.015},
      {"monkey": "J", "model": "exp", "ts": 5, "tl": 5, "p": 0.05},
      {"monkey": "J", "model": "exp", "ts": 5, "tl": 5.5, "p": 0.09},
      {"monkey": "J", "model": "exp", "ts": 5, "tl": 6, "p": 0.14},
      {"monkey": "J", "model": "exp", "ts": 5, "tl": 6.5, "p": 0.21},
      {"monkey": "J", "model": "exp", "ts": 5, "tl": 7, "p": 0.29},
      {"monkey": "J", "model": "exp", "ts": 5, "tl": 7.5, "p": 0.38},
      {"monkey": "J", "model": "exp", "ts": 5, "tl": 7.85, "p": 0.45},
      {"monkey": "J", "model": "exp", "ts": 6, "tl": 0, "p": 0.0},
      {"monkey": "J", "model": "exp", "ts": 6, "tl": 3, "p": 0.003},
      {"monkey": "J", "model": "exp", "ts": 6, "tl": 4, "p": 0.01},
      {"monkey": "J", "model": "exp", "ts": 6, "tl": 5, "p": 0.035},
      {"monkey": "J", "model": "exp", "ts": 6, "tl": 6, "p": 0.1},
      {"monkey": "J", "model": "exp", "ts": 6, "tl": 6.5, "p": 0.15},
      {"monkey": "J", "model": "exp", "ts": 6, "tl": 7, "p": 0.21},
      {"monkey": "J", "model": "exp", "ts": 6, "tl": 7.5, "p": 0.27},
      {"monkey": "J", "model": "exp", "ts": 6, "tl": 7.85, "p": 0.33},
      {"monkey": "J", "model": "exp", "ts": 7, "tl": 0, "p": 0.0},
      {"monkey": "J", "model": "exp", "ts": 7, "tl": 3, "p": 0.002},
      {"monkey": "J", "model": "exp", "ts": 7, "tl": 4, "p": 0.008},
      {"monkey": "J", "model": "exp", "ts": 7, "tl": 5, "p": 0.025},
      {"monkey": "J", "model": "exp", "ts": 7, "tl": 6, "p": 0.07},
      {"monkey": "J", "model": "exp", "ts": 7, "tl": 6.5, "p": 0.11},
      {"monkey": "J", "model": "exp", "ts": 7, "tl": 7, "p": 0.15},
      {"monkey": "J", "model": "exp", "ts": 7, "tl": 7.5, "p": 0.2},
      {"monkey": "J", "model": "exp", "ts": 7, "tl": 7.85, "p": 0.25},
      {"monkey": "J", "model": "exp", "ts": 8, "tl": 0, "p": 0.0},
      {"monkey": "J", "model": "exp", "ts": 8, "tl": 3, "p": 0.001},
      {"monkey": "J", "model": "exp", "ts": 8, "tl": 4, "p": 0.005},
      {"monkey": "J", "model": "exp", "ts": 8, "tl": 5, "p": 0.015},
      {"monkey": "J", "model": "exp", "ts": 8, "tl": 6, "p": 0.05},
      {"monkey": "J", "model": "exp", "ts": 8, "tl": 6.5, "p": 0.075},
      {"monkey": "J", "model": "exp", "ts": 8, "tl": 7, "p": 0.11},
      {"monkey": "J", "model": "exp", "ts": 8, "tl": 7.5, "p": 0.14},
      {"monkey": "J", "model": "exp", "ts": 8, "tl": 7.85, "p": 0.17},
      {"monkey": "J", "model": "hyp", "ts": 0, "tl": 0, "p": 0.0},
      {"monkey": "J", "model": "hyp", "ts": 0, "tl": 0.5, "p": 0.02},
      {"monkey": "J", "model": "hyp", "ts": 0, "tl": 1, "p": 0.08},
      {"monkey": "J", "model": "hyp", "ts": 0, "tl": 1.5, "p": 0.28},
      {"monkey": "J", "model": "hyp", "ts": 0, "tl": 2, "p": 0.5},
      {"monkey": "J", "model": "hyp", "ts": 0, "tl": 2.5, "p": 0.68},
      {"monkey": "J", "model": "hyp", "ts": 0, "tl": 3, "p": 0.81},
      {"monkey": "J", "model": "hyp", "ts": 0, "tl": 3.5, "p": 0.89},
      {"monkey": "J", "model": "hyp", "ts": 0, "tl": 4, "p": 0.93},
      {"monkey": "J", "model": "hyp", "ts": 0, "tl": 5, "p": 0.97},
      {"monkey": "J", "model": "hyp", "ts": 0, "tl": 6, "p": 0.98},
      {"monkey": "J", "model": "hyp", "ts": 0, "tl": 7, "p": 0.985},
      {"monkey": "J", "model": "hyp", "ts": 0, "tl": 7.85, "p": 0.99},
      {"monkey": "J", "model": "hyp", "ts": 1, "tl": 0, "p": 0.0},
      {"monkey": "J", "model": "hyp", "ts": 1, "tl": 1, "p": 0.01},
      {"monkey": "J", "model": "hyp", "ts": 1, "tl": 1.5, "p": 0.03},
      {"monkey": "J", "model": "hyp", "ts": 1, "tl": 2, "p": 0.06},
      {"monkey": "J", "model": "hyp", "ts": 1, "tl": 2.5, "p": 0.13},
      {"monkey": "J", "model": "hyp", "ts": 1, "tl": 3, "p": 0.24},
      {"monkey": "J", "model": "hyp", "ts": 1, "tl": 3.5, "p": 0.42},
      {"monkey": "J", "model": "hyp", "ts": 1, "tl": 4, "p": 0.59},
      {"monkey": "J", "model": "hyp", "ts": 1, "tl": 4.5, "p": 0.71},
      {"monkey": "J", "model": "hyp", "ts": 1, "tl": 5, "p": 0.8},
      {"monkey": "J", "model": "hyp", "ts": 1, "tl": 5.5, "p": 0.84},
      {"monkey": "J", "model": "hyp", "ts": 1, "tl": 6, "p": 0.87},
      {"monkey": "J", "model": "hyp", "ts": 1, "tl": 7, "p": 0.91},
      {"monkey": "J", "model": "hyp", "ts": 1, "tl": 7.85, "p": 0.93},
      {"monkey": "J", "model": "hyp", "ts": 2, "tl": 0, "p": 0.0},
      {"monkey": "J", "model": "hyp", "ts": 2, "tl": 2, "p": 0.01},
      {"monkey": "J", "model": "hyp", "ts": 2, "tl": 2.5, "p": 0.03},
      {"monkey": "J", "model": "hyp", "ts": 2, "tl": 3, "p": 0.075},
      {"monkey": "J", "model": "hyp", "ts": 2, "tl": 3.5, "p": 0.15},
      {"monkey": "J", "model": "hyp", "ts": 2, "tl": 4, "p": 0.26},
      {"monkey": "J", "model": "hyp", "ts": 2, "tl": 4.5, "p": 0.38},
      {"monkey": "J", "model": "hyp", "ts": 2, "tl": 5, "p": 0.49},
      {"monkey": "J", "model": "hyp", "ts": 2, "tl": 5.5, "p": 0.57},
      {"monkey": "J", "model": "hyp", "ts": 2, "tl": 6, "p": 0.64},
      {"monkey": "J", "model": "hyp", "ts": 2, "tl": 6.5, "p": 0.7},
      {"monkey": "J", "model": "hyp", "ts": 2, "tl": 7, "p": 0.745},
      {"monkey": "J", "model": "hyp", "ts": 2, "tl": 7.5, "p": 0.79},
      {"monkey": "J", "model": "hyp", "ts": 2, "tl": 7.85, "p": 0.82},
      {"monkey": "J", "model": "hyp", "ts": 3, "tl": 0, "p": 0.0},
      {"monkey": "J", "model": "hyp", "ts": 3, "tl": 3, "p": 0.01},
      {"monkey": "J", "model": "hyp", "ts": 3, "tl": 3.5, "p": 0.02},
      {"monkey": "J", "model": "hyp", "ts": 3, "tl": 4, "p": 0.04},
      {"monkey": "J", "model": "hyp", "ts": 3, "tl": 4.5, "p": 0.09},
      {"monkey": "J", "model": "hyp", "ts": 3, "tl": 5, "p": 0.17},
      {"monkey": "J", "model": "hyp", "ts": 3, "tl": 5.5, "p": 0.27},
      {"monkey": "J", "model": "hyp", "ts": 3, "tl": 6, "p": 0.38},
      {"monkey": "J", "model": "hyp", "ts": 3, "tl": 6.5, "p": 0.46},
      {"monkey": "J", "model": "hyp", "ts": 3, "tl": 7, "p": 0.53},
      {"monkey": "J", "model": "hyp", "ts": 3, "tl": 7.5, "p": 0.6},
      {"monkey": "J", "model": "hyp", "ts": 3, "tl": 7.85, "p": 0.64},
      {"monkey": "J", "model": "hyp", "ts": 4, "tl": 0, "p": 0.0},
      {"monkey": "J", "model": "hyp", "ts": 4, "tl": 3, "p": 0.004},
      {"monkey": "J", "model": "hyp", "ts": 4, "tl": 4, "p": 0.015},
      {"monkey": "J", "model": "hyp", "ts": 4, "tl": 4.5, "p": 0.03},
      {"monkey": "J", "model": "hyp", "ts": 4, "tl": 5, "p": 0.06},
      {"monkey": "J", "model": "hyp", "ts": 4, "tl": 5.5, "p": 0.11},
      {"monkey": "J", "model": "hyp", "ts": 4, "tl": 6, "p": 0.17},
      {"monkey": "J", "model": "hyp", "ts": 4, "tl": 6.5, "p": 0.25},
      {"monkey": "J", "model": "hyp", "ts": 4, "tl": 7, "p": 0.33},
      {"monkey": "J", "model": "hyp", "ts": 4, "tl": 7.5, "p": 0.41},
      {"monkey": "J", "model": "hyp", "ts": 4, "tl": 7.85, "p": 0.47},
      {"monkey": "J", "model": "hyp", "ts": 5, "tl": 0, "p": 0.0},
      {"monkey": "J", "model": "hyp", "ts": 5, "tl": 3, "p": 0.003},
      {"monkey": "J", "model": "hyp", "ts": 5, "tl": 4, "p": 0.01},
      {"monkey": "J", "model": "hyp", "ts": 5, "tl": 5, "p": 0.04},
      {"monkey": "J", "model": "hyp", "ts": 5, "tl": 5.5, "p": 0.07},
      {"monkey": "J", "model": "hyp", "ts": 5, "tl": 6, "p": 0.11},
      {"monkey": "J", "model": "hyp", "ts": 5, "tl": 6.5, "p": 0.16},
      {"monkey": "J", "model": "hyp", "ts": 5, "tl": 7, "p": 0.22},
      {"monkey": "J", "model": "hyp", "ts": 5, "tl": 7.5, "p": 0.28},
      {"monkey": "J", "model": "hyp", "ts": 5, "tl": 7.85, "p": 0.33},
      {"monkey": "J", "model": "hyp", "ts": 6, "tl": 0, "p": 0.0},
      {"monkey": "J", "model": "hyp", "ts": 6, "tl": 3, "p": 0.002},
      {"monkey": "J", "model": "hyp", "ts": 6, "tl": 4, "p": 0.008},
      {"monkey": "J", "model": "hyp", "ts": 6, "tl": 5, "p": 0.03},
      {"monkey": "J", "model": "hyp", "ts": 6, "tl": 6, "p": 0.08},
      {"monkey": "J", "model": "hyp", "ts": 6, "tl": 6.5, "p": 0.12},
      {"monkey": "J", "model": "hyp", "ts": 6, "tl": 7, "p": 0.16},
      {"monkey": "J", "model": "hyp", "ts": 6, "tl": 7.5, "p": 0.21},
      {"monkey": "J", "model": "hyp", "ts": 6, "tl": 7.85, "p": 0.25},
      {"monkey": "J", "model": "hyp", "ts": 7, "tl": 0, "p": 0.0},
      {"monkey": "J", "model": "hyp", "ts": 7, "tl": 3, "p": 0.002},
      {"monkey": "J", "model": "hyp", "ts": 7, "tl": 4, "p": 0.006},
      {"monkey": "J", "model": "hyp", "ts": 7, "tl": 5, "p": 0.02},
      {"monkey": "J", "model": "hyp", "ts": 7, "tl": 6, "p": 0.06},
      {"monkey": "J", "model": "hyp", "ts": 7, "tl": 6.5, "p": 0.09},
      {"monkey": "J", "model": "hyp", "ts": 7, "tl": 7, "p": 0.12},
      {"monkey": "J", "model": "hyp", "ts": 7, "tl": 7.5, "p": 0.15},
      {"monkey": "J", "model": "hyp", "ts": 7, "tl": 7.85, "p": 0.18},
      {"monkey": "J", "model": "hyp", "ts": 8, "tl": 0, "p": 0.0},
      {"monkey": "J", "model": "hyp", "ts": 8, "tl": 3, "p": 0.001},
      {"monkey": "J", "model": "hyp", "ts": 8, "tl": 4, "p": 0.004},
      {"monkey": "J", "model": "hyp", "ts": 8, "tl": 5, "p": 0.015},
      {"monkey": "J", "model": "hyp", "ts": 8, "tl": 6, "p": 0.045},
      {"monkey": "J", "model": "hyp", "ts": 8, "tl": 6.5, "p": 0.065},
      {"monkey": "J", "model": "hyp", "ts": 8, "tl": 7, "p": 0.09},
      {"monkey": "J", "model": "hyp", "ts": 8, "tl": 7.5, "p": 0.115},
      {"monkey": "J", "model": "hyp", "ts": 8, "tl": 7.85, "p": 0.14}
    ]
  },
  "vconcat": [
    {
      "title": {"text": "Monkey D", "fontSize": 23, "offset": 26, "anchor": "middle", "dx": 46},
      "spacing": 58,
      "hconcat": [
        {
          "title": "exponential model",
          "width": 248,
          "height": 248,
          "encoding": {
            "x": {"field": "tl", "type": "quantitative", "title": "TL delay (s)", "scale": {"domain": [-0.55, 8.51], "nice": false, "zero": false}, "axis": {"values": [0, 2, 4, 6, 8]}}
          },
          "layer": [
            {
              "data": {"name": "fit"},
              "transform": [{"filter": "datum.monkey == 'D' && datum.model == 'exp'"}],
              "mark": {"type": "line", "strokeWidth": 2, "interpolate": "monotone"},
              "encoding": {
                "y": {"field": "p", "type": "quantitative", "title": "P(TS)", "scale": {"domain": [-0.064, 1.064], "nice": false, "zero": false}, "axis": {"values": [0, 0.2, 0.4, 0.6, 0.8, 1], "format": ".1f"}},
                "color": {"field": "ts", "type": "ordinal", "title": ["TS", "delay (s)"], "scale": {"domain": [0, 1, 2, 3, 4, 5, 6, 7, 8], "range": ["#e0262c", "#f5871f", "#a9d32b", "#3aa346", "#3f9fdd", "#2c3a8f", "#5c3b95", "#8c8c8c", "#000000"]}}
              }
            },
            {
              "data": {"name": "pts"},
              "transform": [{"filter": "datum.monkey == 'D'"}],
              "mark": {"type": "errorbar", "ticks": true, "thickness": 1.5},
              "encoding": {
                "y": {"field": "lo", "type": "quantitative", "title": "P(TS)"},
                "y2": {"field": "hi"},
                "color": {"field": "ts", "type": "ordinal", "title": ["TS", "delay (s)"]}
              }
            },
            {
              "data": {"name": "pts"},
              "transform": [{"filter": "datum.monkey == 'D'"}],
              "mark": {"type": "circle", "size": 85, "opacity": 1},
              "encoding": {
                "y": {"field": "p", "type": "quantitative", "title": "P(TS)"},
                "color": {"field": "ts", "type": "ordinal", "title": ["TS", "delay (s)"]}
              }
            }
          ]
        },
        {
          "title": "hyperbolic model",
          "width": 248,
          "height": 248,
          "encoding": {
            "x": {"field": "tl", "type": "quantitative", "title": "TL delay (s)", "scale": {"domain": [-0.55, 8.51], "nice": false, "zero": false}, "axis": {"values": [0, 2, 4, 6, 8]}}
          },
          "layer": [
            {
              "data": {"name": "fit"},
              "transform": [{"filter": "datum.monkey == 'D' && datum.model == 'hyp'"}],
              "mark": {"type": "line", "strokeWidth": 2, "interpolate": "monotone"},
              "encoding": {
                "y": {"field": "p", "type": "quantitative", "title": null, "scale": {"domain": [-0.064, 1.064], "nice": false, "zero": false}, "axis": {"values": [0, 0.2, 0.4, 0.6, 0.8, 1], "format": ".1f"}},
                "color": {"field": "ts", "type": "ordinal", "title": ["TS", "delay (s)"]}
              }
            },
            {
              "data": {"name": "pts"},
              "transform": [{"filter": "datum.monkey == 'D'"}],
              "mark": {"type": "errorbar", "ticks": true, "thickness": 1.5},
              "encoding": {
                "y": {"field": "lo", "type": "quantitative", "title": null},
                "y2": {"field": "hi"},
                "color": {"field": "ts", "type": "ordinal", "title": ["TS", "delay (s)"]}
              }
            },
            {
              "data": {"name": "pts"},
              "transform": [{"filter": "datum.monkey == 'D'"}],
              "mark": {"type": "circle", "size": 85, "opacity": 1},
              "encoding": {
                "y": {"field": "p", "type": "quantitative", "title": null},
                "color": {"field": "ts", "type": "ordinal", "title": ["TS", "delay (s)"]}
              }
            }
          ]
        }
      ]
    },
    {
      "title": {"text": "Monkey J", "fontSize": 23, "offset": 26, "anchor": "middle", "dx": 46},
      "spacing": 58,
      "hconcat": [
        {
          "title": "exponential model",
          "width": 248,
          "height": 248,
          "encoding": {
            "x": {"field": "tl", "type": "quantitative", "title": "TL delay (s)", "scale": {"domain": [-0.55, 8.51], "nice": false, "zero": false}, "axis": {"values": [0, 2, 4, 6, 8]}}
          },
          "layer": [
            {
              "data": {"name": "fit"},
              "transform": [{"filter": "datum.monkey == 'J' && datum.model == 'exp'"}],
              "mark": {"type": "line", "strokeWidth": 2, "interpolate": "monotone"},
              "encoding": {
                "y": {"field": "p", "type": "quantitative", "title": "P(TS)", "scale": {"domain": [-0.064, 1.064], "nice": false, "zero": false}, "axis": {"values": [0, 0.2, 0.4, 0.6, 0.8, 1], "format": ".1f"}},
                "color": {"field": "ts", "type": "ordinal", "title": ["TS", "delay (s)"]}
              }
            },
            {
              "data": {"name": "pts"},
              "transform": [{"filter": "datum.monkey == 'J'"}],
              "mark": {"type": "errorbar", "ticks": true, "thickness": 1.5},
              "encoding": {
                "y": {"field": "lo", "type": "quantitative", "title": "P(TS)"},
                "y2": {"field": "hi"},
                "color": {"field": "ts", "type": "ordinal", "title": ["TS", "delay (s)"]}
              }
            },
            {
              "data": {"name": "pts"},
              "transform": [{"filter": "datum.monkey == 'J'"}],
              "mark": {"type": "circle", "size": 85, "opacity": 1},
              "encoding": {
                "y": {"field": "p", "type": "quantitative", "title": "P(TS)"},
                "color": {"field": "ts", "type": "ordinal", "title": ["TS", "delay (s)"]}
              }
            }
          ]
        },
        {
          "title": "hyperbolic model",
          "width": 248,
          "height": 248,
          "encoding": {
            "x": {"field": "tl", "type": "quantitative", "title": "TL delay (s)", "scale": {"domain": [-0.55, 8.51], "nice": false, "zero": false}, "axis": {"values": [0, 2, 4, 6, 8]}}
          },
          "layer": [
            {
              "data": {"name": "fit"},
              "transform": [{"filter": "datum.monkey == 'J' && datum.model == 'hyp'"}],
              "mark": {"type": "line", "strokeWidth": 2, "interpolate": "monotone"},
              "encoding": {
                "y": {"field": "p", "type": "quantitative", "title": null, "scale": {"domain": [-0.064, 1.064], "nice": false, "zero": false}, "axis": {"values": [0, 0.2, 0.4, 0.6, 0.8, 1], "format": ".1f"}},
                "color": {"field": "ts", "type": "ordinal", "title": ["TS", "delay (s)"]}
              }
            },
            {
              "data": {"name": "pts"},
              "transform": [{"filter": "datum.monkey == 'J'"}],
              "mark": {"type": "errorbar", "ticks": true, "thickness": 1.5},
              "encoding": {
                "y": {"field": "lo", "type": "quantitative", "title": null},
                "y2": {"field": "hi"},
                "color": {"field": "ts", "type": "ordinal", "title": ["TS", "delay (s)"]}
              }
            },
            {
              "data": {"name": "pts"},
              "transform": [{"filter": "datum.monkey == 'J'"}],
              "mark": {"type": "circle", "size": 85, "opacity": 1},
              "encoding": {
                "y": {"field": "p", "type": "quantitative", "title": null},
                "color": {"field": "ts", "type": "ordinal", "title": ["TS", "delay (s)"]}
              }
            }
          ]
        }
      ]
    }
  ],
  "spacing": 36,
  "config": {
    "font": "DejaVu Sans",
    "view": {"stroke": null},
    "title": {"fontSize": 17.5, "fontWeight": "normal", "color": "#222222", "offset": 26},
    "axis": {
      "grid": false,
      "domainColor": "#000000",
      "domainWidth": 2,
      "tickColor": "#000000",
      "tickWidth": 1.5,
      "tickSize": 7,
      "labelFontSize": 17,
      "labelColor": "#222222",
      "labelPadding": 2,
      "titleFontSize": 18,
      "titleFontWeight": "normal",
      "titleColor": "#222222"
    },
    "axisX": {"titlePadding": 16, "labelPadding": 6},
    "axisY": {"titlePadding": 8},
    "legend": {
      "orient": "none",
      "legendX": 627,
      "legendY": 6,
      "strokeColor": "#000000",
      "strokeWidth": 1.5,
      "padding": 11,
      "titleFontSize": 14.5,
      "titleFontWeight": "normal",
      "titleColor": "#222222",
      "titleAnchor": "middle",
      "titleAlign": "center",
      "titleLineHeight": 20,
      "titlePadding": 0,
      "symbolType": "stroke",
      "symbolSize": 200,
      "symbolStrokeWidth": 3,
      "symbolOpacity": 1,
      "symbolOffset": 1,
      "labelFontSize": 14,
      "labelColor": "#222222",
      "labelOffset": 22,
      "rowPadding": 2
    }
  }
}
